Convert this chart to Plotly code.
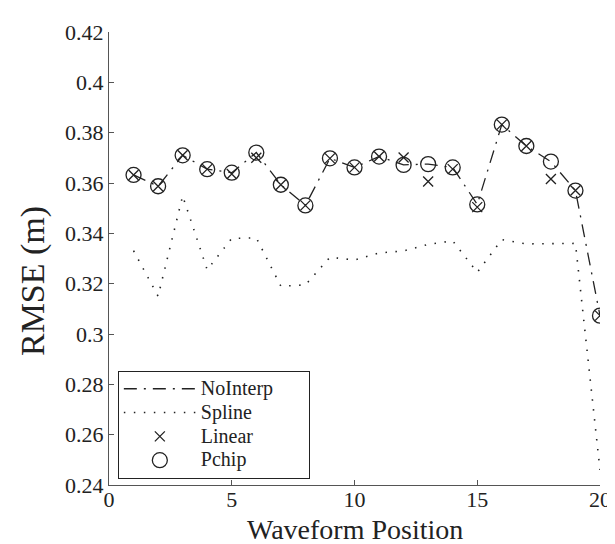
import plotly.graph_objects as go

positions = list(range(1, 21))

no_interp = [0.3632, 0.3587, 0.3710, 0.3655, 0.3641, 0.3721, 0.3593, 0.3511, 0.3698, 0.3662,
             0.3705, 0.3672, 0.3675, 0.3662, 0.3515, 0.3832, 0.3747, 0.3685, 0.3570, 0.3073]
spline = [0.3331, 0.3150, 0.3549, 0.3255, 0.3380, 0.3382, 0.3190, 0.3195, 0.3305, 0.3294,
          0.3322, 0.3330, 0.3356, 0.3370, 0.3245, 0.3375, 0.3358, 0.3360, 0.3360, 0.2460]
linear = [0.3632, 0.3587, 0.3710, 0.3655, 0.3636, 0.3700, 0.3593, 0.3511, 0.3698, 0.3662,
          0.3705, 0.3701, 0.3606, 0.3655, 0.3504, 0.3832, 0.3747, 0.3616, 0.3570, 0.3073]
pchip = [0.3632, 0.3587, 0.3710, 0.3655, 0.3641, 0.3721, 0.3593, 0.3511, 0.3698, 0.3662,
         0.3705, 0.3672, 0.3675, 0.3662, 0.3515, 0.3832, 0.3747, 0.3685, 0.3570, 0.3073]

series_names = ["NoInterp", "Spline", "Linear", "Pchip"]

y_ticks = [0.24, 0.26, 0.28, 0.30, 0.32, 0.34, 0.36, 0.38, 0.40, 0.42]
y_tick_text = ["0.24", "0.26", "0.28", "0.3", "0.32", "0.34", "0.36", "0.38", "0.4", "0.42"]
x_ticks = [0, 5, 10, 15, 20]

FONT = "'Liberation Serif', 'Times New Roman', serif"
INK = "#222222"


def leg(name, pad=0):
    return '<span style="font-size:20px">' + name + "\u00a0" * pad + '</span>'


fig = go.Figure()
fig.add_trace(go.Scatter(x=positions, y=no_interp, mode="lines", name=leg(series_names[0], 6),
                         line=dict(color=INK, width=1.3, dash="13px,7px,2px,7px")))
fig.add_trace(go.Scatter(x=positions, y=spline, mode="lines", name=leg(series_names[1]),
                         line=dict(color=INK, width=1.6, dash="1.5px,8.5px")))
fig.add_trace(go.Scatter(x=positions, y=linear, mode="markers", name=leg(series_names[2]),
                         marker=dict(symbol="x-thin", size=10, color=INK,
                                     line=dict(color=INK, width=1.3))))
fig.add_trace(go.Scatter(x=positions, y=pchip, mode="markers", name=leg(series_names[3]),
                         marker=dict(symbol="circle-open", size=15, color=INK,
                                     line=dict(color=INK, width=1.3))))

axis_common = dict(showgrid=False, zeroline=False, showline=True, linecolor="#555555",
                   linewidth=1, ticks="inside", ticklen=5, tickcolor="#555555",
                   tickfont=dict(family=FONT, size=22, color=INK))

fig.update_layout(
    width=615, height=544,
    margin=dict(l=101, r=12, t=20, b=67),
    paper_bgcolor="white", plot_bgcolor="white",
    showlegend=True,
    legend=dict(x=0.018, y=0.252, xanchor="left", yanchor="top",
                bordercolor="#222222", borderwidth=1, bgcolor="white",
                font=dict(family=FONT, size=16, color=INK),
                itemwidth=72, tracegroupgap=0),
    xaxis=dict(range=[0, 20], tickvals=x_ticks, ticklabelstandoff=-5, **axis_common),
    yaxis=dict(range=[0.24, 0.42], tickvals=y_ticks, ticktext=y_tick_text, **axis_common),
    annotations=[
        dict(text="Waveform Position", xref="paper", yref="paper", x=0.5, y=-0.059,
             xanchor="center", yanchor="top", showarrow=False,
             font=dict(family=FONT, size=28, color=INK)),
        dict(text="RMSE (m)", xref="paper", yref="paper", x=-0.155, y=0.45,
             xanchor="center", yanchor="middle", showarrow=False, textangle=-90,
             font=dict(family=FONT, size=34, color=INK)),
    ],
)

fig.write_html("out.html")
